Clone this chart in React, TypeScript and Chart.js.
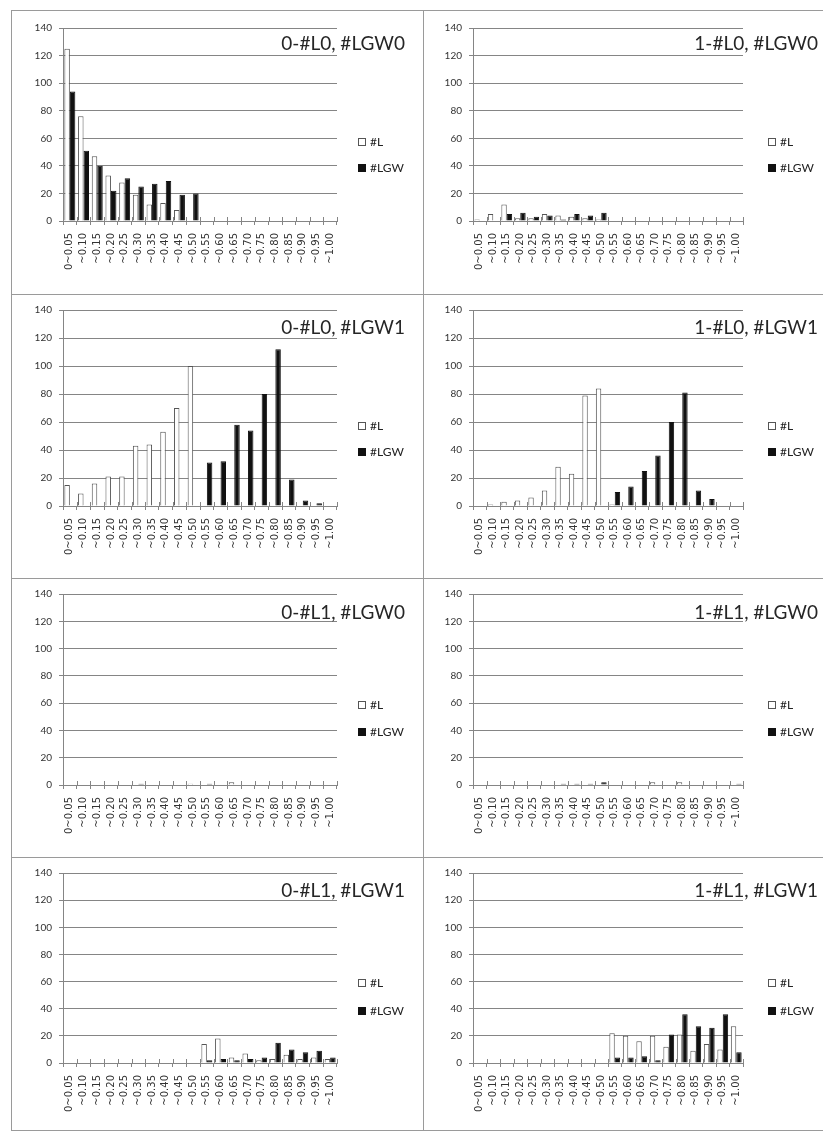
import React, { useEffect, useRef } from "react";
import { Chart, registerables } from "chart.js";

Chart.register(...registerables);

// ---------- data ----------
const categories = [
  "0~0.05", "~0.10", "~0.15", "~0.20", "~0.25", "~0.30", "~0.35", "~0.40", "~0.45", "~0.50",
  "~0.55", "~0.60", "~0.65", "~0.70", "~0.75", "~0.80", "~0.85", "~0.90", "~0.95", "~1.00",
];
const seriesNames = ["#L", "#LGW"];
const yMin = 0;
const yMax = 140;
const yStep = 20;

const titles = [
  "0-#L0, #LGW0", "1-#L0, #LGW0",
  "0-#L0, #LGW1", "1-#L0, #LGW1",
  "0-#L1, #LGW0", "1-#L1, #LGW0",
  "0-#L1, #LGW1", "1-#L1, #LGW1",
];

// 0-#L0, #LGW0
const lA = [125, 76, 47, 33, 28, 19, 12, 13, 8, 0, 0, 0, 0, 0, 0, 0, 0, 0, 0, 0];
const lgwA = [94, 51, 40, 22, 31, 25, 27, 29, 19, 20, 0, 0, 0, 0, 0, 0, 0, 0, 0, 0];
// 1-#L0, #LGW0
const lB = [1, 5, 12, 2, 2, 5, 4, 3, 2, 1, 0, 0, 0, 0, 0, 0, 0, 0, 0, 0];
const lgwB = [0, 0, 5, 6, 3, 4, 1, 5, 4, 6, 0, 0, 0, 0, 0, 0, 0, 0, 0, 0];
// 0-#L0, #LGW1
const lC = [15, 9, 16, 21, 21, 43, 44, 53, 70, 100, 0, 0, 0, 0, 0, 0, 0, 0, 0, 0];
const lgwC = [0, 0, 0, 0, 0, 0, 0, 0, 0, 0, 31, 32, 58, 54, 80, 112, 19, 4, 2, 0];
// 1-#L0, #LGW1
const lD = [0, 1, 3, 4, 6, 11, 28, 23, 79, 84, 1, 0, 0, 0, 0, 0, 0, 0, 0, 0];
const lgwD = [0, 0, 0, 0, 0, 0, 0, 0, 0, 0, 10, 14, 25, 36, 60, 81, 11, 5, 0, 0];
// 0-#L1, #LGW0
const lE = [0, 0, 0, 0, 0, 0, 0, 0, 0, 1, 0, 0, 2, 0, 0, 0, 0, 0, 0, 0];
const lgwE = [0, 0, 0, 0, 0, 1, 0, 0, 0, 0, 1, 0, 0, 0, 0, 0, 0, 0, 0, 0];
// 1-#L1, #LGW0
const lF = [0, 0, 0, 0, 0, 0, 0, 0, 0, 0, 0, 0, 0, 2, 0, 2, 0, 0, 0, 0];
const lgwF = [0, 0, 0, 0, 0, 0, 1, 1, 1, 2, 0, 0, 0, 0, 0, 0, 0, 0, 0, 1];
// 0-#L1, #LGW1
const lG = [0, 0, 0, 0, 0, 0, 0, 0, 0, 0, 14, 18, 4, 7, 2, 3, 6, 3, 4, 3];
const lgwG = [0, 0, 0, 0, 0, 0, 0, 0, 0, 0, 2, 3, 2, 3, 4, 15, 10, 8, 9, 4];
// 1-#L1, #LGW1
const lH = [0, 0, 0, 0, 0, 0, 0, 0, 0, 0, 22, 20, 16, 20, 12, 21, 9, 14, 10, 27];
const lgwH = [0, 0, 0, 0, 0, 0, 0, 0, 0, 0, 4, 4, 5, 2, 21, 36, 27, 26, 36, 8];

const seriesL = [lA, lB, lC, lD, lE, lF, lG, lH];
const seriesLGW = [lgwA, lgwB, lgwC, lgwD, lgwE, lgwF, lgwG, lgwH];

// ---------- layout / style ----------
const CELL_W = 411;
const colLayout = [
  { plotLeft: 51, plotRight: 325, legendX: 346, titleRight: 393 },
  { plotLeft: 49, plotRight: 319, legendX: 344, titleRight: 394 },
];
const rowLayout = [
  { h: 283, plotTop: 17, plotBottom: 210, legendY: [131, 157], titleY: 33 },
  { h: 283, plotTop: 15, plotBottom: 211, legendY: [131, 157], titleY: 33 },
  { h: 278, plotTop: 15, plotBottom: 206, legendY: [126, 153], titleY: 34 },
  { h: 272, plotTop: 15, plotBottom: 205, legendY: [125, 153], titleY: 33 },
];
const GRID = "#858585";
const BORDER = "#9a9a9a";
const TEXT = "#333333";
const FONT = "Lato, 'Liberation Sans', sans-serif";
const XFONT = "'DejaVu Sans', sans-serif";
const fillColors = ["#ffffff", "#111111"];
const edgeColors = ["#555555", "#111111"];

function Panel({ index }: { index: number }) {
  const ref = useRef<HTMLCanvasElement | null>(null);
  const row = Math.floor(index / 2);
  const col = index % 2;
  const R = rowLayout[row];
  const C = colLayout[col];

  useEffect(() => {
    const canvas = ref.current;
    if (!canvas) return;
    const title = titles[index];
    const decor = {
      id: "decor" + index,
      afterDraw(chart: any) {
        const ctx = chart.ctx as CanvasRenderingContext2D;
        ctx.save();
        // cross tick marks above the category axis
        const xs = chart.scales.x;
        const n = chart.data.labels.length;
        ctx.strokeStyle = GRID;
        ctx.lineWidth = 1;
        for (let i = 0; i <= n; i++) {
          const x = Math.round(xs.left + (i * (xs.right - xs.left)) / n) + 0.5;
          ctx.beginPath();
          ctx.moveTo(x, xs.top);
          ctx.lineTo(x, xs.top - 4);
          ctx.stroke();
        }
        // title
        ctx.font = `19px ${FONT}`;
        ctx.fillStyle = "#262626";
        ctx.textAlign = "right";
        ctx.textBaseline = "middle";
        ctx.fillText(title, C.titleRight, R.titleY);
        // legend
        chart.data.datasets.forEach((ds: any, i: number) => {
          const y = R.legendY[i];
          ctx.fillStyle = fillColors[i];
          ctx.fillRect(C.legendX, y - 4, 8, 8);
          ctx.strokeStyle = edgeColors[i];
          ctx.strokeRect(C.legendX + 0.5, y - 3.5, 7, 7);
          ctx.fillStyle = "#222";
          ctx.font = `12px ${FONT}`;
          ctx.textAlign = "left";
          ctx.fillText(ds.label, C.legendX + 12, y);
        });
        ctx.restore();
      },
    };

    const chart = new Chart(canvas, {
      type: "bar",
      data: {
        labels: categories,
        datasets: [seriesL[index], seriesLGW[index]].map((d, i) => ({
          label: seriesNames[i],
          data: d,
          backgroundColor: fillColors[i],
          borderColor: edgeColors[i],
          borderWidth: 1,
          borderSkipped: "start",
          categoryPercentage: 0.8,
          barPercentage: 1.0,
        })),
      },
      options: {
        responsive: false,
        animation: false,
        layout: {
          padding: { top: R.plotTop, left: 0, right: CELL_W - C.plotRight, bottom: 0 },
        },
        plugins: {
          legend: { display: false },
          title: { display: false },
          tooltip: { enabled: false },
        },
        scales: {
          x: {
            grid: {
              display: true,
              drawOnChartArea: false,
              drawTicks: true,
              tickLength: 4,
              offset: true,
              color: GRID,
            },
            border: { display: true, color: GRID },
            ticks: {
              autoSkip: false,
              minRotation: 90,
              maxRotation: 90,
              padding: 8,
              color: TEXT,
              font: { family: XFONT, size: 10 },
            },
            afterFit: (s: any) => {
              s.height = R.h - R.plotBottom;
            },
          },
          y: {
            min: yMin,
            max: yMax,
            ticks: {
              stepSize: yStep,
              padding: 7,
              color: TEXT,
              font: { family: FONT, size: 10 },
            },
            grid: { color: GRID, tickLength: 4, drawTicks: true },
            border: { display: true, color: GRID },
            afterFit: (s: any) => {
              s.width = C.plotLeft;
            },
          },
        },
      },
      plugins: [decor],
    } as any);
    return () => chart.destroy();
  }, [index]);

  return (
    <div
      style={{
        width: CELL_W,
        height: R.h,
        borderRight: `1px solid ${BORDER}`,
        borderBottom: `1px solid ${BORDER}`,
        boxSizing: "content-box",
        background: "#fff",
      }}
    >
      <canvas ref={ref} width={CELL_W} height={R.h} style={{ display: "block" }} />
    </div>
  );
}

export default function App() {
  return (
    <div
      style={{
        position: "absolute",
        left: 0,
        top: 0,
        width: 823,
        height: 1132,
        overflow: "hidden",
        background: "#fff",
      }}
    >
      <div
        style={{
          position: "absolute",
          left: 11,
          top: 10,
          borderLeft: `1px solid ${BORDER}`,
          borderTop: `1px solid ${BORDER}`,
          display: "grid",
          gridTemplateColumns: `${CELL_W + 1}px ${CELL_W + 1}px`,
          width: 2 * (CELL_W + 1),
        }}
      >
        {titles.map((_, i) => (
          <Panel key={i} index={i} />
        ))}
      </div>
    </div>
  );
}
